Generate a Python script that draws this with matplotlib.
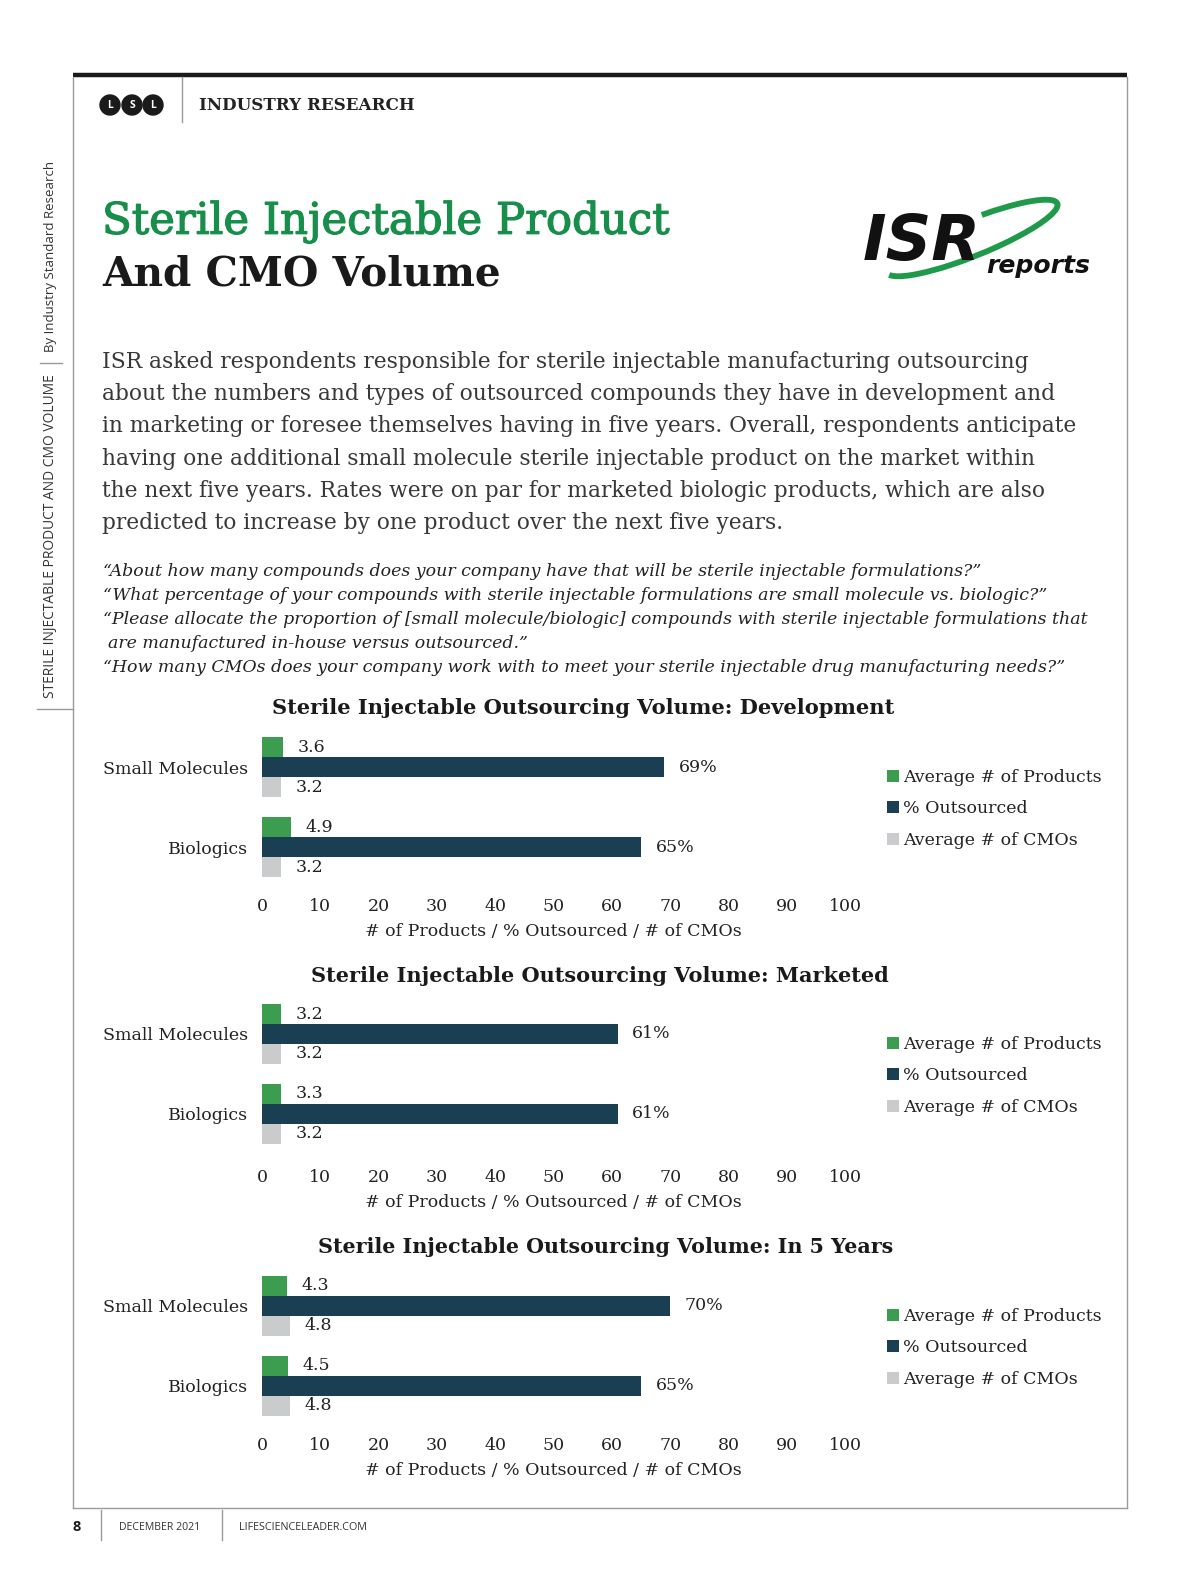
import numpy as np
import matplotlib.pyplot as plt
import matplotlib.patheffects as pe
from matplotlib.patches import Circle, Arc

W, H = 1200, 1582
SERIF = 'DejaVu Serif'
SANS = 'Open Sans'
GREEN = '#3c9d50'
NAVY = '#1b3f52'
GRAY = '#c9cbcd'
TITLE_GREEN = '#178e4a'
INK = '#222222'

# data
groups = ['Small Molecules', 'Biologics']
series = ['Average # of Products', '% Outsourced', 'Average # of CMOs']
ticks = [0, 10, 20, 30, 40, 50, 60, 70, 80, 90, 100]
xlabel = '# of Products / % Outsourced / # of CMOs'

dev_products = [3.6, 4.9]
dev_outsourced = [69, 65]
dev_cmos = [3.2, 3.2]

mkt_products = [3.2, 3.3]
mkt_outsourced = [61, 61]
mkt_cmos = [3.2, 3.2]

fy_products = [4.3, 4.5]
fy_outsourced = [70, 65]
fy_cmos = [4.8, 4.8]

body_lines = [
    'ISR asked respondents responsible for sterile injectable manufacturing outsourcing',
    'about the numbers and types of outsourced compounds they have in development and',
    'in marketing or foresee themselves having in five years. Overall, respondents anticipate',
    'having one additional small molecule sterile injectable product on the market within',
    'the next five years. Rates were on par for marketed biologic products, which are also',
    'predicted to increase by one product over the next five years.',
]

quote_lines = [
    '\u201cAbout how many compounds does your company have that will be sterile injectable formulations?\u201d',
    '\u201cWhat percentage of your compounds with sterile injectable formulations are small molecule vs. biologic?\u201d',
    '\u201cPlease allocate the proportion of [small molecule/biologic] compounds with sterile injectable formulations that',
    ' are manufactured in-house versus outsourced.\u201d',
    '\u201cHow many CMOs does your company work with to meet your sterile injectable drug manufacturing needs?\u201d',
]


fig = plt.figure(figsize=(12, 15.82), dpi=100)
bg = fig.add_axes([0, 0, 1, 1])
bg.set_xlim(0, W)
bg.set_ylim(H, 0)
bg.axis('off')
renderer = fig.canvas.get_renderer()


def fit(t, width):
    w = t.get_window_extent(renderer).width
    t.set_fontsize(t.get_fontsize() * width / w)
    return t.get_fontsize()


def px_rect(x0, y0, x1, y1):
    return [x0 / W, 1 - y1 / H, (x1 - x0) / W, (y1 - y0) / H]


# page frame
bg.plot([73, 1127], [75, 75], color='#1a1a1a', lw=3.2, solid_capstyle='butt')
bg.plot([73, 73], [77, 1508], color='#9a9a9a', lw=1)
bg.plot([1127, 1127], [77, 1508], color='#9a9a9a', lw=1)
bg.plot([73, 1127], [1508, 1508], color='#9a9a9a', lw=1)

# header
for cx, letter in zip([110, 132, 153], ['L', 'S', 'L']):
    bg.add_patch(Circle((cx, 105), 10, color='#1a1a1a'))
    bg.text(cx, 105, letter, color='white', fontsize=7.5, fontweight='bold',
            family=SANS, ha='center', va='center')
bg.plot([182, 182], [77, 122], color='#9a9a9a', lw=1)
t = bg.text(199, 105, 'INDUSTRY RESEARCH', family=SERIF, fontweight='bold',
            fontsize=12, color=INK, ha='left', va='center')
fit(t, 216)

# sidebar
t = bg.text(51, 256, 'By Industry Standard Research', family=SANS, fontsize=8.5,
            color='#333333', ha='center', va='center')
fit(t, 190)
t.set_rotation(90)
t = bg.text(51, 536, 'STERILE INJECTABLE PRODUCT AND CMO VOLUME', family=SANS,
            fontsize=8.5, color='#333333', ha='center', va='center')
fit(t, 321)
t.set_rotation(90)
bg.plot([40, 62], [363, 363], color='#9a9a9a', lw=1)
bg.plot([37, 73], [709, 709], color='#9a9a9a', lw=1)

# titles
t = bg.text(102, 222, 'Sterile Injectable Product', family=SERIF, fontsize=30,
            color=TITLE_GREEN, ha='left', va='center',
            path_effects=[pe.withStroke(linewidth=0.9, foreground=TITLE_GREEN)])
fit(t, 568)
t = bg.text(102, 274, 'And CMO Volume', family=SERIF, fontsize=30,
            fontweight='bold', color='#1a1a1a', ha='left', va='center')
fit(t, 399)

# ISR logo
bg.add_patch(Arc((972, 238), 184, 36, angle=-22, theta1=-45, theta2=178,
                 color='#1e9a4a', lw=4.2, zorder=1))
t = bg.text(863, 260, 'ISR', family='DejaVu Sans', fontweight='heavy',
            style='italic', fontsize=40, color='#111111', ha='left',
            va='baseline', zorder=2)
fit(t, 118)
t = bg.text(986, 273, 'reports', family='DejaVu Sans', fontweight='bold',
            style='italic', fontsize=16, color='#111111', ha='left',
            va='baseline', zorder=2)
fit(t, 104)

# body paragraph
probe = [bg.text(102, 0, body_lines[i], family=SERIF, fontsize=15) for i in (0, 2)]
size = np.mean([fit(probe[0], 935), fit(probe[1], 972)])
for p in probe:
    p.remove()
for i, line in enumerate(body_lines):
    bg.text(102, 362 + 32.2 * i, line, family=SERIF, fontsize=size,
            color='#383838', ha='left', va='center')

# quotes
probe = bg.text(103, 0, quote_lines[2], family=SERIF, style='italic', fontsize=13)
size = fit(probe, 981)
probe.remove()
for i, line in enumerate(quote_lines):
    x = 108 if i == 3 else 103
    bg.text(x, 571 + 24.2 * i, line.strip(), family=SERIF, style='italic',
            fontsize=size, color=INK, ha='left', va='center')


def draw_chart(title, products, outsourced, cmos, title_x0, title_w, title_y,
               top, legend_y, tick_pad):
    t = bg.text(title_x0, title_y, title, family=SERIF, fontweight='bold',
                fontsize=14.5, color='#1a1a1a', ha='left', va='center')
    fit(t, title_w)
    ax = fig.add_axes(px_rect(262, top, 845, top + 160))
    ax.patch.set_alpha(0)
    y = np.arange(len(groups))
    h = 0.25
    b1 = ax.barh(y - h, products, height=h, color=GREEN)
    b2 = ax.barh(y, outsourced, height=h, color=NAVY)
    b3 = ax.barh(y + h, cmos, height=h, color=GRAY)
    lab = dict(padding=10.5, fontsize=12.5, color=INK, family=SERIF)
    ax.bar_label(b1, labels=[f'{v:.1f}' for v in products], **lab)
    ax.bar_label(b2, labels=[f'{v:.0f}%' for v in outsourced], **lab)
    ax.bar_label(b3, labels=[f'{v:.1f}' for v in cmos], **lab)
    ax.set_xlim(0, 100)
    ax.set_ylim(1.5, -0.5)
    ax.set_xticks(ticks)
    ax.set_yticks(y, groups)
    for s in ax.spines.values():
        s.set_visible(False)
    ax.tick_params(axis='x', length=0, pad=tick_pad, labelsize=12.5, labelcolor=INK)
    ax.tick_params(axis='y', length=0, pad=10, labelsize=12.5, labelcolor=INK)
    for lbl in ax.get_xticklabels() + ax.get_yticklabels():
        lbl.set_family(SERIF)
    ax.set_xlabel(xlabel, family=SERIF, fontsize=12.5, color=INK, labelpad=5.8)
    fig.legend(handles=[b1, b2, b3], labels=series, loc='upper left',
               bbox_to_anchor=(887 / W, 1 - (legend_y - 7) / H),
               frameon=False, handlelength=0.7, handleheight=0.7,
               handletextpad=0.25, labelspacing=0.83, borderpad=0,
               borderaxespad=0, prop={'family': SERIF, 'size': 12.5},
               labelcolor=INK)
    return ax


draw_chart('Sterile Injectable Outsourcing Volume: Development',
           dev_products, dev_outsourced, dev_cmos, 272, 624, 708, 727, 776, 8)
draw_chart('Sterile Injectable Outsourcing Volume: Marketed',
           mkt_products, mkt_outsourced, mkt_cmos, 311, 578, 976, 994, 1043, 10.5)
draw_chart('Sterile Injectable Outsourcing Volume: In 5 Years',
           fy_products, fy_outsourced, fy_cmos, 318, 577, 1247, 1266, 1315, 8)

# footer
bg.text(77, 1527, '8', family=SANS, fontweight='bold', fontsize=10.5,
        color='#1a1a1a', ha='center', va='center')
bg.plot([101, 101], [1510, 1540], color='#9a9a9a', lw=1)
bg.plot([222, 222], [1510, 1540], color='#9a9a9a', lw=1)
t = bg.text(119, 1527, 'DECEMBER 2021', family=SANS, fontsize=7.5,
            color='#333333', ha='left', va='center')
fit(t, 81)
t = bg.text(239, 1527, 'LIFESCIENCELEADER.COM', family=SANS, fontsize=7.5,
            color='#333333', ha='left', va='center')
fit(t, 128)

fig.savefig('out.png', dpi=100, facecolor='white')
